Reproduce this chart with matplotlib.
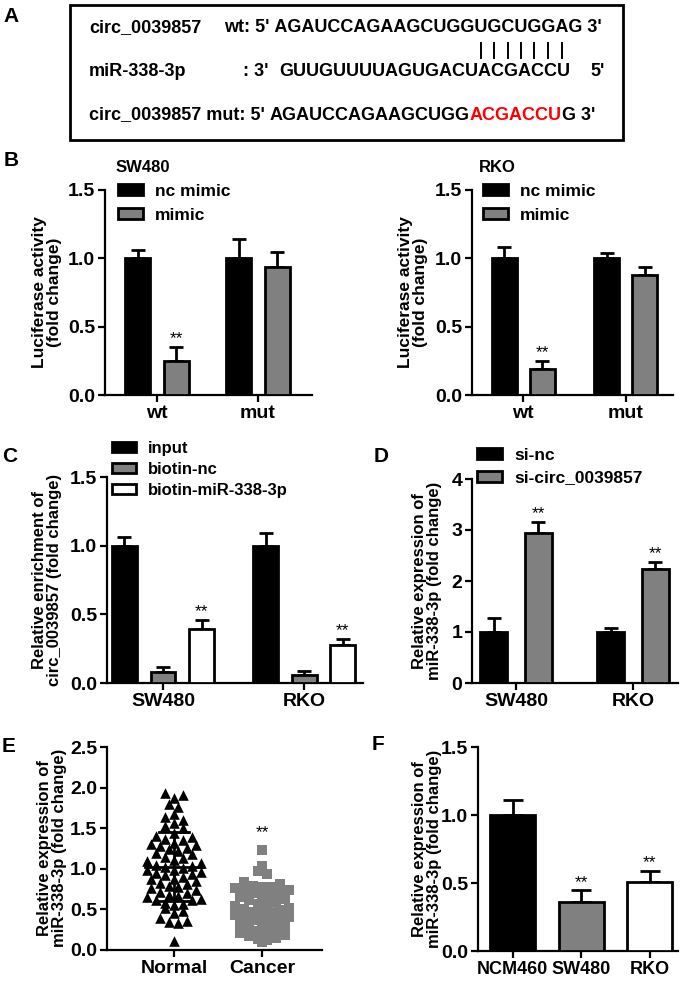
import matplotlib
matplotlib.use("Agg")
import matplotlib.pyplot as plt
from matplotlib.patches import Patch, Rectangle
from matplotlib.lines import Line2D
import numpy as np

plt.rcParams["font.family"] = ["Liberation Sans", "DejaVu Sans"]
plt.rcParams["font.weight"] = "bold"
plt.rcParams["axes.labelweight"] = "bold"

W, H = 685, 982
GREY = "#808080"

# Panel A : sequences
wt_label = "circ_0039857"
wt_prefix = "wt: 5' "
wt_seq = "AGAUCCAGAAGCUGGUGCUGGAG"
mir_label = "miR-338-3p"
mir_seq = "GUUGUUUUAGUGACUACGACCU"
mut_label = "circ_0039857 mut: 5' "
mut_seq = "AGAUCCAGAAGCUGGACGACCUG"
site_start, site_end = 15, 22   # mutated / paired positions

# Panel B : luciferase
luc_groups = ["wt", "mut"]
luc_series = ["nc mimic", "mimic"]
sw480_luc = [[1.0, 1.0], [0.25, 0.94]]
sw480_luc_err = [[0.06, 0.14], [0.10, 0.11]]
sw480_luc_stars = [(1, 0)]
rko_luc = [[1.0, 1.0], [0.19, 0.875]]
rko_luc_err = [[0.08, 0.04], [0.06, 0.065]]
rko_luc_stars = [(1, 0)]

# Panel C : pull-down
cells = ["SW480", "RKO"]
pull_series = ["input", "biotin-nc", "biotin-miR-338-3p"]
pull_vals = [[1.0, 1.0], [0.08, 0.055], [0.39, 0.28]]
pull_err = [[0.065, 0.09], [0.037, 0.033], [0.072, 0.042]]
pull_stars = [(2, 0), (2, 1)]

# Panel D : si-circ
si_series = ["si-nc", "si-circ_0039857"]
si_vals = [[1.0, 1.0], [2.95, 2.24]]
si_err = [[0.28, 0.08], [0.21, 0.13]]
si_stars = [(1, 0), (1, 1)]

# Panel E : tissues
tissue_groups = ["Normal", "Cancer"]
normal_vals = [1.93, 1.91, 1.87, 1.80, 1.76, 1.67, 1.64, 1.60, 1.56, 1.53,
               1.50, 1.44, 1.40, 1.39, 1.37, 1.35, 1.32, 1.31, 1.29, 1.28,
               1.26, 1.24, 1.22, 1.20, 1.18, 1.15, 1.13, 1.11, 1.09, 1.07,
               1.05, 1.03, 1.02, 1.01, 0.99, 0.98, 0.96, 0.95, 0.93, 0.92,
               0.90, 0.88, 0.87, 0.85, 0.83, 0.81, 0.79, 0.77, 0.76, 0.74,
               0.72, 0.70, 0.68, 0.66, 0.65, 0.63, 0.62, 0.61, 0.58, 0.57,
               0.55, 0.52, 0.48, 0.45, 0.40, 0.36, 0.34, 0.33, 0.11]
cancer_vals = [1.23, 1.04, 0.97, 0.94, 0.84, 0.81, 0.79, 0.78, 0.77, 0.76,
               0.74, 0.73, 0.71, 0.70, 0.68, 0.66, 0.65, 0.63, 0.61, 0.59,
               0.57, 0.55, 0.54, 0.52, 0.50, 0.49, 0.47, 0.46, 0.44, 0.43,
               0.41, 0.40, 0.38, 0.37, 0.35, 0.33, 0.32, 0.30, 0.28, 0.26,
               0.24, 0.22, 0.21, 0.19, 0.17, 0.15, 0.13, 0.12, 0.10]

# Panel F : cell lines
line_names = ["NCM460", "SW480", "RKO"]
line_vals = [1.0, 0.36, 0.505]
line_err = [0.11, 0.085, 0.08]
line_stars = [1, 2]


def px_box(left, top, right, bottom):
    return [left / W, 1 - bottom / H, (right - left) / W, (bottom - top) / H]


def fx(x):
    return x / W


def fy(y):
    return 1 - y / H


def style_axis(ax, ylim, yticks, fmt, xlim):
    for s in ["top", "right"]:
        ax.spines[s].set_visible(False)
    for s in ["left", "bottom"]:
        ax.spines[s].set_linewidth(1.6)
    ax.set_ylim(*ylim)
    ax.set_xlim(*xlim)
    ax.set_yticks(yticks)
    ax.set_yticklabels([fmt.format(t) for t in yticks])
    ax.tick_params(direction="out", length=5, width=1.6, labelsize=14, pad=2)


def grouped_bars(ax, groups, values, errors, colors, stars, width, offsets):
    x = np.arange(len(groups))
    for i, (vals, errs, col) in enumerate(zip(values, errors, colors)):
        pos = x + offsets[i]
        ax.bar(pos, vals, width, color=col, edgecolor="black", linewidth=2, zorder=3)
        ax.errorbar(pos, vals, yerr=[np.zeros(len(vals)), errs], fmt="none",
                    ecolor="black", elinewidth=2, capsize=5, capthick=2, zorder=2)
    ymax = ax.get_ylim()[1]
    for si, gi in stars:
        top = values[si][gi] + errors[si][gi]
        ax.text(gi + offsets[si], top + ymax * 0.004, "**", ha="center", va="bottom",
                fontsize=12.5, fontweight="normal")
    ax.set_xticks(x)
    ax.set_xticklabels(groups)


def add_legend(fig, ax, labels, colors, left, top, fontsize, spacing):
    handles = [Patch(facecolor=c, edgecolor="black", linewidth=2) for c in colors]
    ax.legend(handles, labels, loc="upper left", bbox_to_anchor=(fx(left), fy(top)),
              bbox_transform=fig.transFigure, frameon=False, fontsize=fontsize,
              handlelength=1.45, handleheight=0.6, handletextpad=0.7,
              labelspacing=spacing, borderpad=0, borderaxespad=0)


def ylabel(fig, x, y, text, fontsize=12.5):
    fig.text(fx(x), fy(y), text, rotation=90, ha="center", va="center",
             multialignment="center", linespacing=1.05, fontsize=fontsize)


def row_offsets(values, bin_h, step_px, px_per_x):
    """Prism-like scatter : points binned by value, spread side by side in each row."""
    values = np.asarray(values)
    bins = np.floor(values / bin_h).astype(int)
    offs = np.zeros(len(values))
    for b in np.unique(bins):
        idx = np.where(bins == b)[0]
        n = len(idx)
        slots = (np.arange(n) - (n - 1) / 2) * step_px / px_per_x
        # alternate the order so rows do not look sorted
        order = list(idx[::2]) + list(idx[1::2][::-1])
        for j, i in enumerate(order):
            offs[i] = slots[j]
    return offs


fig = plt.figure(figsize=(W / 100, H / 100), dpi=100)
renderer = fig.canvas.get_renderer()

# ---------------- Panel A ----------------
fs_a = 13
row_y = [28, 71, 115]
fig.text(fx(11), fy(16), "A", fontsize=15, ha="center", va="center")
fig.add_artist(Rectangle((fx(70), fy(140)), 553 / W, 135 / H, transform=fig.transFigure,
                         fill=False, edgecolor="black", linewidth=2))

# row 3 first : its sequence start fixes the alignment of row 1
t_mut = fig.text(fx(89), fy(row_y[2]), mut_label, fontsize=fs_a, va="center")
seq_x = t_mut.get_window_extent(renderer).x1
x = seq_x
for part, col in [(mut_seq[:site_start], "black"), (mut_seq[site_start:site_end], "#ff0000"),
                  (mut_seq[site_end:] + " 3'", "black")]:
    t = fig.text(x / W, fy(row_y[2]), part, fontsize=fs_a, va="center", color=col)
    x = t.get_window_extent(renderer).x1

fig.text(fx(89), fy(row_y[0]), wt_label, fontsize=fs_a, va="center")
fig.text(seq_x / W, fy(row_y[0]), wt_prefix.strip(), fontsize=fs_a, va="center", ha="right")
t_wt = fig.text(seq_x / W, fy(row_y[0]), " " + wt_seq + " 3'", fontsize=fs_a, va="center")
x_wt0 = t_wt.get_window_extent(renderer).x0

fig.text(fx(89), fy(row_y[1]), mir_label, fontsize=fs_a, va="center")
fig.text(fx(243), fy(row_y[1]), ": 3'", fontsize=fs_a, va="center")
fig.text(fx(279), fy(row_y[1]), mir_seq, fontsize=fs_a, va="center")
fig.text(fx(590), fy(row_y[1]), "5'", fontsize=fs_a, va="center")


def text_width(s):
    t = fig.text(0, 0, s, fontsize=fs_a)
    w = t.get_window_extent(renderer).width
    t.remove()
    return w


for k in range(site_start, site_end):
    pre = " " + wt_seq[:k]
    c = x_wt0 + (text_width(pre) + text_width(pre + wt_seq[k])) / 2
    fig.add_artist(Line2D([c / W, c / W], [fy(43), fy(58)], transform=fig.transFigure,
                          color="black", linewidth=1.4))

# ---------------- Panel B ----------------
fig.text(fx(11), fy(161), "B", fontsize=15, ha="center", va="center")
ax_bl = fig.add_axes(px_box(105, 190, 312, 395))
style_axis(ax_bl, (0, 1.5), [0, 0.5, 1.0, 1.5], "{:.1f}", (-0.515, 1.535))
grouped_bars(ax_bl, luc_groups, sw480_luc, sw480_luc_err, ["black", GREY],
             sw480_luc_stars, 0.25, [-0.19, 0.19])
fig.text(fx(143), fy(168), "SW480", fontsize=12, ha="center", va="center")
add_legend(fig, ax_bl, luc_series, ["black", GREY], 118, 184, 12.5, 0.5)
ylabel(fig, 47, 292, "Luciferase activity\n(fold change)")

ax_br = fig.add_axes(px_box(472, 190, 673, 395))
style_axis(ax_br, (0, 1.5), [0, 0.5, 1.0, 1.5], "{:.1f}", (-0.50, 1.46))
grouped_bars(ax_br, luc_groups, rko_luc, rko_luc_err, ["black", GREY],
             rko_luc_stars, 0.245, [-0.185, 0.185])
fig.text(fx(497), fy(168), "RKO", fontsize=12, ha="center", va="center")
add_legend(fig, ax_br, luc_series, ["black", GREY], 483, 184, 12.5, 0.5)
ylabel(fig, 413, 292, "Luciferase activity\n(fold change)")

# ---------------- Panel C ----------------
fig.text(fx(10), fy(457), "C", fontsize=15, ha="center", va="center")
ax_c = fig.add_axes(px_box(107, 477, 363, 683))
style_axis(ax_c, (0, 1.5), [0, 0.5, 1.0, 1.5], "{:.1f}", (-0.397, 1.418))
grouped_bars(ax_c, cells, pull_vals, pull_err, ["black", GREY, "white"],
             pull_stars, 0.177, [-0.273, 0.0, 0.273])
add_legend(fig, ax_c, pull_series, ["black", GREY, "white"], 112, 441, 12, 0.36)
ylabel(fig, 47, 580, "Relative enrichment of\ncirc_0039857 (fold change)", 12)

# ---------------- Panel D ----------------
fig.text(fx(381), fy(457), "D", fontsize=15, ha="center", va="center")
ax_d = fig.add_axes(px_box(472, 479, 678, 683))
style_axis(ax_d, (0, 4), [0, 1, 2, 3, 4], "{:d}", (-0.376, 1.385))
grouped_bars(ax_d, cells, si_vals, si_err, ["black", GREY], si_stars, 0.23, [-0.19, 0.19])
add_legend(fig, ax_d, si_series, ["black", GREY], 477, 448, 12.5, 0.42)
ylabel(fig, 427, 581, "Relative expression of\nmiR-338-3p (fold change)", 12)

# ---------------- Panel E ----------------
fig.text(fx(9), fy(746), "E", fontsize=15, ha="center", va="center")
ax_e = fig.add_axes(px_box(107, 747, 322, 950))
style_axis(ax_e, (0, 2.5), [0, 0.5, 1.0, 1.5, 2.0, 2.5], "{:.1f}", (-0.76, 1.68))
px_x, px_y = 88.0, 81.2
for gi, (vals, marker, col, ms) in enumerate(
        [(normal_vals, "^", "black", 58), (cancer_vals, "s", GREY, 50)]):
    offs = row_offsets(vals, 0.11, 9.0, px_x)
    ax_e.scatter(gi + offs, vals, marker=marker, s=ms, color=col, linewidths=0, zorder=3)
    m, sd = np.mean(vals), np.std(vals, ddof=1)
    ax_e.plot([gi - 0.33, gi + 0.33], [m, m], color=col, lw=2, zorder=4)
    ax_e.plot([gi, gi], [m - sd, m + sd], color=col, lw=2, zorder=4)
    for yv in (m - sd, m + sd):
        ax_e.plot([gi - 0.17, gi + 0.17], [yv, yv], color=col, lw=2, zorder=4)
ax_e.text(1, max(cancer_vals) + 0.12, "**", ha="center", va="bottom", fontsize=12.5,
          fontweight="normal")
ax_e.set_xticks([0, 1])
ax_e.set_xticklabels(tissue_groups)
ylabel(fig, 52, 848, "Relative expression of\nmiR-338-3p (fold change)", 12)

# ---------------- Panel F ----------------
fig.text(fx(378), fy(745), "F", fontsize=15, ha="center", va="center")
ax_f = fig.add_axes(px_box(478, 747, 678, 951))
style_axis(ax_f, (0, 1.5), [0, 0.5, 1.0, 1.5], "{:.1f}", (-0.504, 2.416))
xf = np.arange(len(line_names))
ax_f.bar(xf, line_vals, 0.657, color=["black", GREY, "white"], edgecolor="black",
         linewidth=2, zorder=3)
ax_f.errorbar(xf, line_vals, yerr=[np.zeros(len(line_vals)), line_err], fmt="none",
              ecolor="black", elinewidth=2, capsize=7, capthick=2, zorder=2)
for i in line_stars:
    ax_f.text(i, line_vals[i] + line_err[i] + 0.006, "**", ha="center", va="bottom",
              fontsize=12.5, fontweight="normal")
ax_f.set_xticks(xf)
ax_f.set_xticklabels(line_names, fontsize=13)
ylabel(fig, 427, 849, "Relative expression of\nmiR-338-3p (fold change)", 12)

fig.savefig("out.png", dpi=100)
